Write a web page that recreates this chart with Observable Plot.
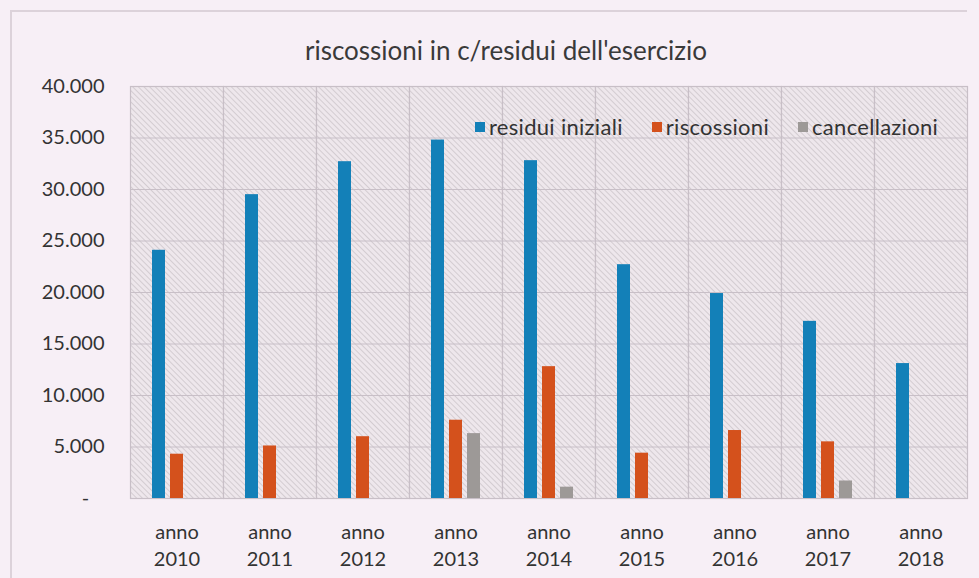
<!DOCTYPE html>
<html>
<head>
<meta charset="utf-8">
<script src="https://cdn.jsdelivr.net/npm/d3@7"></script>
<script src="https://cdn.jsdelivr.net/npm/@observablehq/plot@0.6"></script>
<style>
  body { margin: 0; background: #f7eff6; font-family: Lato, "Open Sans", sans-serif; }
  #wrap { position: relative; width: 979px; height: 578px; overflow: hidden; background: #f7eff6; }
  #border { position: absolute; left: 10px; top: 10px; width: 955px; height: 620px; border-left: 2px solid #dcd2da; border-top: 2px solid #dcd2da; }
  #title { position: absolute; left: 0; top: 34px; width: 1012px; text-align: center; font-size: 26px; color: #3a3a3a; }
  #chart { position: absolute; left: 0; top: 70px; }
  #legend { position: absolute; left: 475px; top: 113px; display: flex; font-size: 22px; letter-spacing: 0.3px; color: #333; white-space: nowrap; }
  #legend .item { display: flex; align-items: center; margin-right: 29px; }
  #legend .sw { width: 10px; height: 10px; margin-right: 4px; }
</style>
</head>
<body>
<svg width="0" height="0" style="position:absolute">
  <defs>
    <pattern id="hatch" patternUnits="userSpaceOnUse" width="4" height="4" patternTransform="rotate(-45)">
      <rect width="4" height="4" fill="#eee7ec"></rect>
      <line x1="0" y1="0" x2="0" y2="4" stroke="#cbc3c9" stroke-width="1.5"></line>
    </pattern>
  </defs>
</svg>
<div id="wrap">
  <div id="border"></div>
  <div id="title">riscossioni in c/residui dell'esercizio</div>
  <div id="chart"></div>
  <div id="legend"></div>
</div>
<script>
const years = ["2010", "2011", "2012", "2013", "2014", "2015", "2016", "2017", "2018"];
const series = ["residui iniziali", "riscossioni", "cancellazioni"];
const residuiIniziali = [24100, 29500, 32700, 34800, 32800, 22700, 19900, 17200, 13100];
const riscossioni = [4300, 5100, 6000, 7600, 12800, 4400, 6600, 5500, null];
const cancellazioni = [null, null, null, 6300, 1100, null, null, 1700, null];
const yTicks = [0, 5000, 10000, 15000, 20000, 25000, 30000, 35000, 40000];
const colors = ["#1380b8", "#d4511c", "#9d9997"];

const values = [residuiIniziali, riscossioni, cancellazioni];
const data = [];
years.forEach((yr, i) => {
  values.forEach((arr, j) => {
    if (arr[i] != null) data.push({year: yr, serie: series[j], value: arr[i]});
  });
});

const fmtY = d => d === 0 ? "-\u00a0\u00a0\u00a0" : d3.format(",")(d).replace(/,/g, ".");

const chart = Plot.plot({
  width: 979,
  height: 508,
  marginLeft: 128,
  marginRight: 10,
  marginTop: 16,
  marginBottom: 80,
  style: {background: "transparent", fontFamily: "Lato, 'Open Sans', sans-serif", color: "#333"},
  fx: {domain: years, padding: 0, label: null},
  x: {domain: series, paddingInner: 0.26, paddingOuter: 1.09, axis: null},
  y: {domain: [0, 40000], label: null},
  color: {domain: series, range: colors},
  marks: [
    Plot.frame({fill: "url(#hatch)", stroke: "#c8bfc7", strokeWidth: 1.2}),
    Plot.gridY(yTicks, {stroke: "#c8bfc7", strokeOpacity: 1, strokeWidth: 1.2}),
    Plot.barY(data, {fx: "year", x: "serie", y: "value", fill: "serie"}),
    Plot.axisY(yTicks, {tickFormat: fmtY, tickSize: 0, tickPadding: 26, fontSize: 20, fill: "#333", label: null}),
    Plot.axisFx({anchor: "bottom", tickFormat: d => "anno\n" + d, tickSize: 0, tickPadding: 21, fontSize: 20, lineHeight: 1.35, fill: "#333", label: null})
  ]
});
document.getElementById("chart").appendChild(chart);

const legend = document.getElementById("legend");
series.forEach((s, i) => {
  const item = document.createElement("div");
  item.className = "item";
  const sw = document.createElement("span");
  sw.className = "sw";
  sw.style.background = colors[i];
  const t = document.createElement("span");
  t.textContent = s;
  item.appendChild(sw);
  item.appendChild(t);
  legend.appendChild(item);
});
</script>
</body>
</html>
